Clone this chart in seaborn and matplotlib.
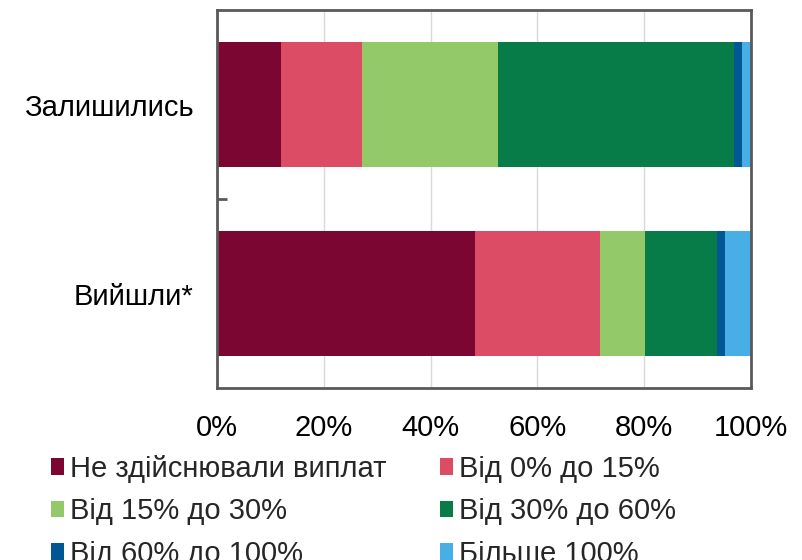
import numpy as np
import matplotlib
matplotlib.use('Agg')
import matplotlib.pyplot as plt
import seaborn as sns

sns.set_theme(style='white')
plt.rcParams['font.family'] = ['Liberation Sans', 'DejaVu Sans']

# data (shares in %)
groups = ['Залишились', 'Вийшли*']
segments = ['Не здійснювали виплат', 'Від 0% до 15%', 'Від 15% до 30%',
            'Від 30% до 60%', 'Від 60% до 100%', 'Більше 100%']
no_payments = [12.0, 48.4]
pay_0_15 = [15.2, 23.3]
pay_15_30 = [25.5, 8.4]
pay_30_60 = [44.1, 13.5]
pay_60_100 = [1.5, 1.5]
pay_over_100 = [1.7, 4.9]
colors = ['#7C0632', '#DC4C64', '#93C969', '#077B48', '#015694', '#47AFE5']

values = np.array([no_payments, pay_0_15, pay_15_30, pay_30_60, pay_60_100, pay_over_100])
cum = values.cumsum(axis=0)

fig = plt.figure(figsize=(8.03, 5.6), dpi=100)
ax = fig.add_axes([0.2702, 0.3071, 0.665, 0.675])

# stacked bars: draw cumulative totals from the widest one down
for i in range(len(segments) - 1, -1, -1):
    sns.barplot(x=cum[i], y=groups, orient='h', color=colors[i], saturation=1,
                width=0.66, label=segments[i], linewidth=0, ax=ax)

ax.set_xlim(0, 100)
ax.set_ylim(1.5, -0.5)
ax.set_xticks(range(0, 101, 20))
ax.set_xticklabels([f'{t}%' for t in range(0, 101, 20)])
ax.set_xlabel('')
ax.set_ylabel('')
ax.xaxis.grid(True, color='#D9D9D9', linewidth=1)
ax.yaxis.grid(False)
ax.set_axisbelow(True)
for s in ax.spines.values():
    s.set_visible(True)
    s.set_color('#595959')
    s.set_linewidth(2)

ax.tick_params(axis='x', length=0, pad=19, labelsize=21, labelcolor='black')
ax.tick_params(axis='y', which='major', length=0, pad=17, labelsize=21, labelcolor='black')
ax.set_yticks([0.5], minor=True)
ax.tick_params(axis='y', which='minor', left=True, direction='in', length=7,
               width=2, color='#595959')

# legend, filled row by row
handles, labels = ax.get_legend_handles_labels()
if ax.get_legend() is not None:
    ax.get_legend().remove()
lookup = dict(zip(labels, handles))
order = [0, 2, 4, 1, 3, 5]
fig.legend([lookup[segments[k]] for k in order], [segments[k] for k in order],
           ncol=2, loc='upper left', bbox_to_anchor=(0.063, 0.188), frameon=False,
           fontsize=21, handlelength=0.45, handleheight=0.5, handletextpad=0.2,
           labelspacing=0.5, columnspacing=1.85, borderaxespad=0, borderpad=0)

fig.savefig('out.png', dpi=100)
